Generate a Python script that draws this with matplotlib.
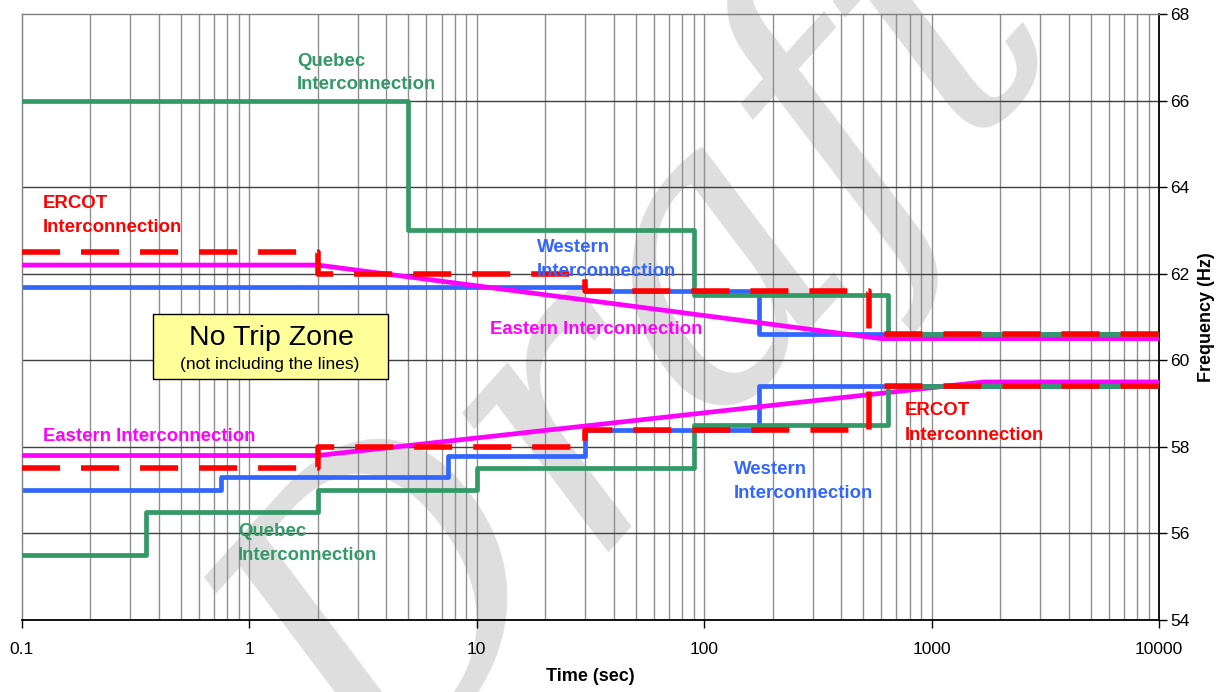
import matplotlib
matplotlib.use('Agg')
import matplotlib.pyplot as plt
from matplotlib.ticker import FixedLocator, NullLocator
from matplotlib.patches import Rectangle

plt.rcParams['font.family'] = ['Liberation Sans', 'DejaVu Sans']

# ---------------- data ----------------
qc_hi_t = [0.1, 5, 90, 640, 10000]
qc_hi_f = [66.0, 63.0, 61.5, 60.6, 60.6]
qc_lo_t = [0.1, 0.35, 2, 10, 90, 640, 10000]
qc_lo_f = [55.5, 56.5, 57.0, 57.5, 58.5, 59.4, 59.4]

ercot_hi_t = [0.1, 2, 30, 530, 10000]
ercot_hi_f = [62.5, 62.0, 61.6, 60.6, 60.6]
ercot_lo_t = [0.1, 2, 30, 530, 10000]
ercot_lo_f = [57.5, 58.0, 58.4, 59.4, 59.4]

west_hi_t = [0.1, 30, 175, 10000]
west_hi_f = [61.7, 61.6, 60.6, 60.6]
west_lo_t = [0.1, 0.75, 7.5, 30, 175, 10000]
west_lo_f = [57.0, 57.3, 57.8, 58.4, 59.4, 59.4]

east_hi_t = [0.1, 2, 600, 10000]
east_hi_f = [62.2, 62.2, 60.5, 60.5]
east_lo_t = [0.1, 2, 1700, 10000]
east_lo_f = [57.8, 57.8, 59.5, 59.5]

x_ticks = [0.1, 1, 10, 100, 1000, 10000]
x_ticklabels = ['0.1', '1', '10', '100', '1000', '10000']
y_ticks = [54, 56, 58, 60, 62, 64, 66, 68]

GREEN = '#339966'
BLUE = '#3366FF'
MAGENTA = '#FF00FF'
RED = '#FF0000'

W, H = 1225, 692
fig = plt.figure(figsize=(W / 100, H / 100), dpi=100)
L, R, T, B = 22, 1159, 14, 620
ax = fig.add_axes([L / W, 1 - B / H, (R - L) / W, (B - T) / H])
ax.patch.set_alpha(0)

# watermark
fig.text(0.53, 0.49, 'Draft', fontsize=280, color='#dedede', rotation=48,
         ha='center', va='center', family='DejaVu Serif', style='italic',
         zorder=-5)


def pax(px, py):
    return (px - L) / (R - L), (B - py) / (B - T)


ax.set_xscale('log')
ax.set_xlim(0.1, 10000)
ax.set_ylim(54, 68)

# lines
lw = 3.4
ax.plot(west_hi_t, west_hi_f, color=BLUE, lw=lw, drawstyle='steps-post', zorder=2)
ax.plot(west_lo_t, west_lo_f, color=BLUE, lw=lw, drawstyle='steps-post', zorder=2)
ax.plot(east_hi_t, east_hi_f, color=MAGENTA, lw=lw, zorder=3)
ax.plot(east_lo_t, east_lo_f, color=MAGENTA, lw=lw, zorder=3)
ax.plot(qc_hi_t, qc_hi_f, color=GREEN, lw=lw, drawstyle='steps-post', zorder=4)
ax.plot(qc_lo_t, qc_lo_f, color=GREEN, lw=lw, drawstyle='steps-post', zorder=4)
rlw = 4.0
dash = (0, (27.4 / rlw, 15.1 / rlw))
ax.plot(ercot_hi_t, ercot_hi_f, color=RED, lw=rlw, ls=dash, drawstyle='steps-post', zorder=5)
ax.plot(ercot_lo_t, ercot_lo_f, color=RED, lw=rlw, ls=dash, drawstyle='steps-post', zorder=5)

# grid
minors = []
for d in [0.1, 1, 10, 100, 1000]:
    for k in range(2, 10):
        minors.append(d * k)
for xv in minors + x_ticks[1:-1]:
    ax.axvline(xv, color='#8f8f8f', lw=1.0, zorder=0.5)
for yv in y_ticks[1:-1]:
    ax.axhline(yv, color='#404040', lw=1.0, zorder=0.6)

# ticks
ax.xaxis.set_major_locator(FixedLocator(x_ticks))
ax.xaxis.set_minor_locator(NullLocator())
ax.set_xticklabels(x_ticklabels)
ax.yaxis.tick_right()
ax.yaxis.set_label_position('right')
ax.set_yticks(y_ticks)
ax.tick_params(axis='both', which='major', direction='out', length=6, width=1,
               labelsize=12.5, colors='black')
ax.tick_params(axis='x', pad=10)
ax.tick_params(axis='y', pad=2)

for s in ['left', 'top']:
    ax.spines[s].set_color('#808080')
    ax.spines[s].set_linewidth(1.0)
for s in ['bottom', 'right']:
    ax.spines[s].set_color('black')
    ax.spines[s].set_linewidth(1.3)

ax.set_xlabel('Time (sec)', fontsize=13, fontweight='bold', labelpad=8)
ax.set_ylabel('Frequency (Hz)', fontsize=13, fontweight='bold', labelpad=6)

# annotations (each line at its baseline)
labels = [
    ('Quebec', 297, 66, GREEN), ('Interconnection', 297, 89, GREEN),
    ('ERCOT', 43, 208, RED), ('Interconnection', 43, 232, RED),
    ('Western', 537, 252, BLUE), ('Interconnection', 537, 276, BLUE),
    ('Eastern Interconnection', 490, 334, MAGENTA),
    ('Eastern Interconnection', 43, 441, MAGENTA),
    ('Quebec', 238, 536, GREEN), ('Interconnection', 238, 560, GREEN),
    ('Western', 734, 474, BLUE), ('Interconnection', 734, 498, BLUE),
    ('ERCOT', 905, 415, RED), ('Interconnection', 905, 440, RED),
]
for txt, px, py, c in labels:
    x, y = pax(px, py)
    ax.text(x, y, txt, transform=ax.transAxes, color=c, fontsize=13.4,
            fontweight='bold', ha='left', va='baseline', zorder=6)

# No trip zone box
x0, y0 = pax(153, 379)
x1, y1 = pax(388, 314)
ax.add_patch(Rectangle((x0, y0), x1 - x0, y1 - y0, transform=ax.transAxes,
                       facecolor='#FFFF99', edgecolor='black', lw=1.0, zorder=7))
cx, cy = pax(271, 345)
ax.text(cx, cy, 'No Trip Zone', transform=ax.transAxes, fontsize=20.5,
        ha='center', va='baseline', zorder=8)
cx, cy = pax(270, 369)
ax.text(cx, cy, '(not including the lines)', transform=ax.transAxes, fontsize=12.5,
        ha='center', va='baseline', zorder=8)

fig.savefig('out.png', dpi=100)
